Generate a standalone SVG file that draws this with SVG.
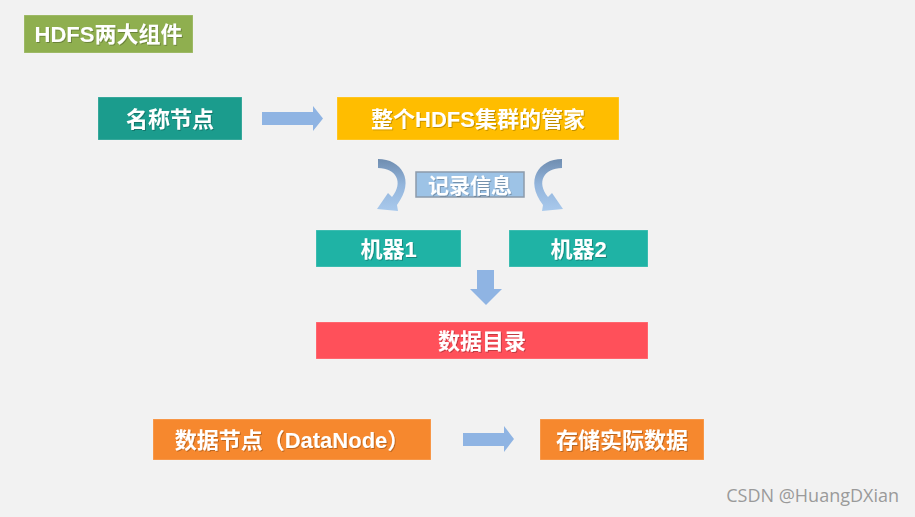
<svg xmlns="http://www.w3.org/2000/svg" width="915" height="517" viewBox="0 0 915 517">
<defs>
<linearGradient id="curveGrad" x1="0" y1="0" x2="0" y2="1">
<stop offset="0" stop-color="#6f8db0"/>
<stop offset="0.5" stop-color="#93b5dc"/>
<stop offset="1" stop-color="#a9c9ec"/>
</linearGradient>
<filter id="ts" x="-10%" y="-20%" width="120%" height="140%">
<feDropShadow dx="1" dy="1" stdDeviation="0.6" flood-color="#000" flood-opacity="0.25"/>
</filter>
</defs>
<style>
.lbl{font-family:"Liberation Sans","Noto Sans CJK SC",sans-serif;font-weight:bold;font-size:22px;fill:#ffffff;text-anchor:middle;filter:url(#ts)}
.arrow{fill:#8fb4e3}
.box{stroke:#ffffff;stroke-opacity:0.25;stroke-width:1}
.curve{fill:url(#curveGrad)}
.wm{font-family:"Open Sans","Noto Sans",sans-serif;font-size:18px;fill:#9a9a9a;text-anchor:end}
</style>
<rect x="0" y="0" width="915" height="517" fill="#f2f2f2"/>

<g id="title">
<rect class="box" x="24" y="15" width="169" height="38" fill="#8faf4f"/>
<text class="lbl" x="108.5" y="42">HDFS两大组件</text>
</g>

<g id="namenode">
<rect class="box" x="98" y="97" width="144" height="43" fill="#1b9c8d"/>
<text class="lbl" x="170" y="126.5">名称节点</text>
</g>

<g id="manager">
<rect class="box" x="337" y="97" width="282" height="43" fill="#ffbd00"/>
<text class="lbl" x="478" y="126.5">整个HDFS集群的管家</text>
</g>

<g id="record">
<rect x="416" y="172" width="108" height="25" fill="#9dc3e6" stroke="#8c9bab" stroke-width="1.5"/>
<text class="lbl" x="470" y="192.5" style="font-size:21px">记录信息</text>
</g>

<g id="machine1">
<rect class="box" x="316" y="230" width="145" height="37" fill="#1fb3a5"/>
<text class="lbl" x="388.5" y="257">机器1</text>
</g>

<g id="machine2">
<rect class="box" x="509" y="230" width="139" height="37" fill="#1fb3a5"/>
<text class="lbl" x="578.5" y="257">机器2</text>
</g>

<g id="datadir">
<rect class="box" x="316" y="322" width="332" height="37" fill="#ff505a"/>
<text class="lbl" x="482" y="349">数据目录</text>
</g>

<g id="datanode">
<rect class="box" x="153" y="419" width="278" height="41" fill="#f6882e"/>
<text class="lbl" x="292" y="448">数据节点（DataNode）</text>
</g>

<g id="storage">
<rect class="box" x="540" y="419" width="164" height="41" fill="#f6882e"/>
<text class="lbl" x="622" y="448">存储实际数据</text>
</g>

<g id="connectors">
<polygon class="arrow" points="262,112 313,112 313,106 323,118.5 313,131 313,125 262,125"/>
<path class="curve" d="M378,159 C401,159 416,180 397,205 L398,211 L377,209 L388,193 L392,197 C404,182 396,168 378,168 Z"/>
<path class="curve" transform="translate(940,0) scale(-1,1)" d="M378,159 C401,159 416,180 397,205 L398,211 L377,209 L388,193 L392,197 C404,182 396,168 378,168 Z"/>
<polygon class="arrow" points="477,270 494,270 494,289 502,289 486,305 470,289 477,289"/>
<polygon class="arrow" points="463,433 504,433 504,426 514,439 504,452 504,446 463,446"/>
</g>

<text class="wm" x="899" y="502">CSDN @HuangDXian</text>
</svg>
